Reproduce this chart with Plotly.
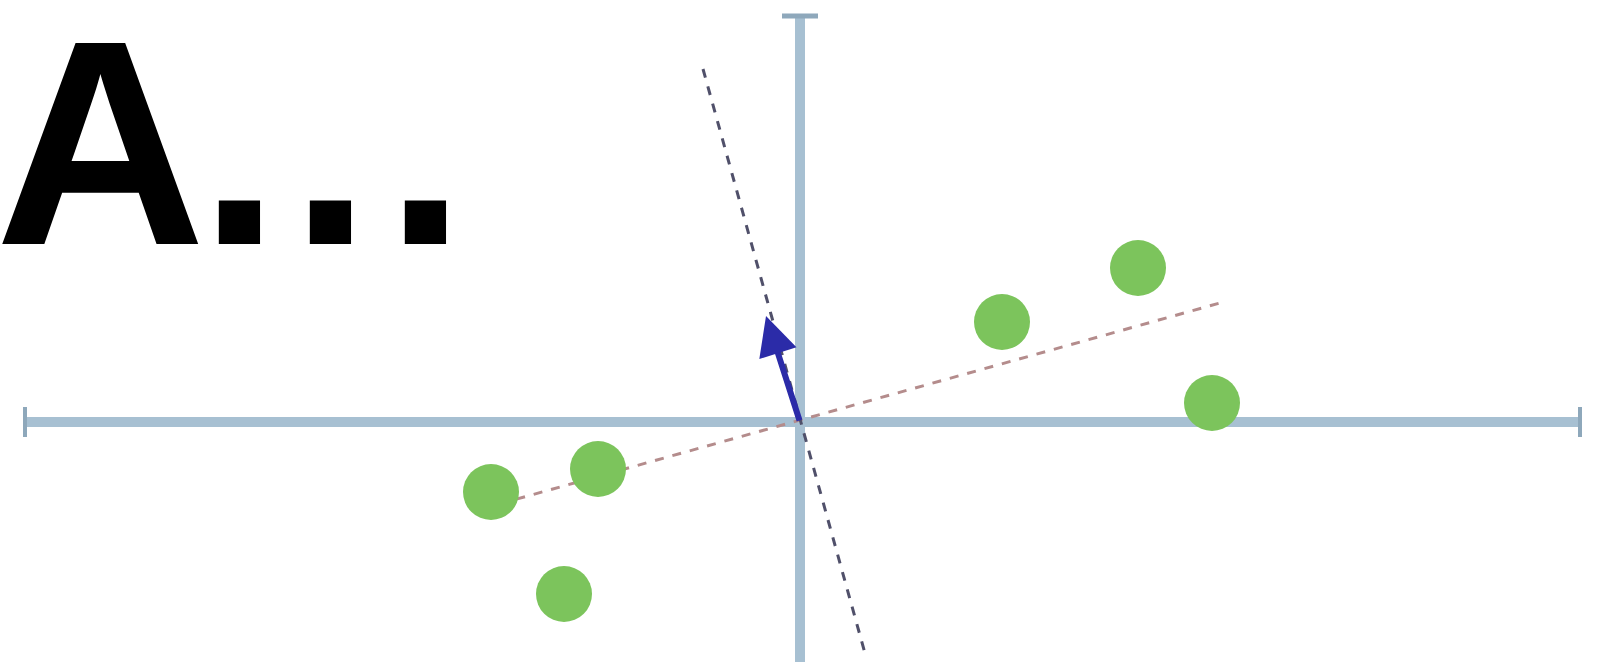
import plotly.graph_objects as go

# data (units: origin at the centre of the cross)
pts_x = [-3.09, -2.02, -2.36, 2.02, 3.38, 4.12]
pts_y = [-0.70, -0.47, -1.72, 1.00, 1.54, 0.19]
pc1_x = [-3.01, 4.20]
pc1_y = [-0.82, 1.19]
pc2_x = [-0.97, 0.66]
pc2_y = [3.53, -2.35]
arrow_tip = [-0.34, 1.06]
haxis_x = [-7.75, 7.80]
vaxis_y = [4.06, -2.45]
title_chars = ["A", ".", ".", "."]
title_pos = [0.0626, 0.1499, 0.2071, 0.2665]

AX = "#a7c0d2"
CAP = "#8ea8bb"
fig = go.Figure()
# axes
fig.add_trace(go.Scatter(x=haxis_x, y=[0, 0], mode="lines",
                         line=dict(color=AX, width=10), hoverinfo="skip"))
fig.add_trace(go.Scatter(x=[0, 0], y=vaxis_y, mode="lines",
                         line=dict(color=AX, width=10), hoverinfo="skip"))
# end caps
fig.add_trace(go.Scatter(x=[haxis_x[0], haxis_x[0], None, haxis_x[1], haxis_x[1]],
                         y=[-0.15, 0.15, None, -0.15, 0.15], mode="lines",
                         line=dict(color=CAP, width=4), hoverinfo="skip"))
fig.add_trace(go.Scatter(x=[-0.18, 0.18], y=[vaxis_y[0], vaxis_y[0]], mode="lines",
                         line=dict(color=CAP, width=5), hoverinfo="skip"))
# principal directions
fig.add_trace(go.Scatter(x=pc1_x, y=pc1_y, mode="lines",
                         line=dict(color="#b48c8c", width=3, dash="dash"), hoverinfo="skip"))
fig.add_trace(go.Scatter(x=pc2_x, y=pc2_y, mode="lines",
                         line=dict(color="#50506a", width=3, dash="dash"), hoverinfo="skip"))
# points
fig.add_trace(go.Scatter(x=pts_x, y=pts_y, mode="markers",
                         marker=dict(color="#7cc45c", size=56, line=dict(width=0))))
# arrow
fig.add_annotation(x=arrow_tip[0], y=arrow_tip[1], ax=0, ay=0, xref="x", yref="y",
                   axref="x", ayref="y", showarrow=True, arrowhead=2, arrowsize=1.3,
                   arrowwidth=6, arrowcolor="#2b2ba8", text="")
# title
for ch, px in zip(title_chars, title_pos):
    fig.add_annotation(x=px, y=0.7844, xref="paper", yref="paper", xanchor="center",
                       yanchor="middle", valign="middle", height=250,
                       text="<b>" + ch + "</b>", showarrow=False,
                       font=dict(family="Liberation Sans", size=292, color="#000000"))

fig.update_layout(width=1598, height=662, margin=dict(l=0, r=0, t=0, b=0),
                  paper_bgcolor="white", plot_bgcolor="white", showlegend=False,
                  xaxis=dict(range=[-8.00, 7.98], visible=False, fixedrange=True),
                  yaxis=dict(range=[-2.40, 4.22], visible=False, fixedrange=True))
fig.write_html("out.html", config={"displayModeBar": False},
               post_script="document.body.style.margin='0px';")
